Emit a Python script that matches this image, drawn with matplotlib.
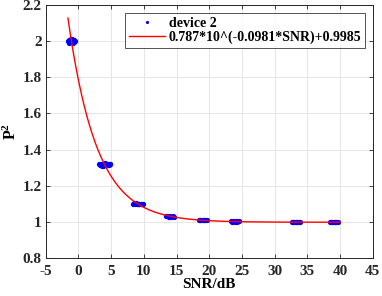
import matplotlib
matplotlib.use("Agg")
import matplotlib.pyplot as plt
import numpy as np

plt.rcParams['font.family'] = ['Liberation Serif', 'DejaVu Serif']
plt.rcParams['font.weight'] = 'bold'
plt.rcParams['axes.unicode_minus'] = False
plt.rcParams['mathtext.fontset'] = 'custom'
plt.rcParams['mathtext.rm'] = 'Liberation Serif:bold'
plt.rcParams['mathtext.it'] = 'Liberation Serif:bold'
plt.rcParams['mathtext.bf'] = 'Liberation Serif:bold'

# measured points (device 2), clustered by SNR level
snr_c1 = [-1.6, -1.4, -1.2, -1.0, -0.8, -0.6, -0.5, -1.5, -1.1, -0.7, -1.3, -0.9, -0.6, -1.2, -0.8, -1.0]
p2_c1 = [2.000, 2.008, 1.995, 2.010, 2.004, 1.998, 2.002, 1.992, 2.012, 2.007, 2.005, 1.993, 2.001, 2.014, 1.990, 1.998]
snr_c2 = [3.2, 3.4, 3.5, 3.7, 3.8, 4.0, 4.1, 4.3, 4.4, 4.6, 4.7, 4.9, 3.6, 3.9, 4.2, 4.5, 3.3, 4.8]
p2_c2 = [1.318, 1.322, 1.314, 1.320, 1.312, 1.324, 1.316, 1.319, 1.314, 1.320, 1.317, 1.318, 1.311, 1.321, 1.313, 1.316, 1.315, 1.319]
snr_c3 = [8.3, 8.5, 8.7, 8.9, 9.1, 9.3, 9.5, 9.7, 9.9, 8.8, 9.2]
p2_c3 = [1.100, 1.103, 1.099, 1.102, 1.100, 1.099, 1.101, 1.100, 1.099, 1.104, 1.097]
snr_c4 = [13.4, 13.6, 13.8, 14.0, 14.2, 14.4, 14.6, 13.9]
p2_c4 = [1.031, 1.033, 1.029, 1.032, 1.030, 1.031, 1.030, 1.028]
snr_c5 = [18.4, 18.6, 18.8, 19.0, 19.2, 19.4, 19.6]
p2_c5 = [1.011, 1.010, 1.009, 1.011, 1.010, 1.010, 1.009]
snr_c6 = [23.3, 23.5, 23.7, 23.9, 24.1, 24.3, 24.5]
p2_c6 = [1.003, 1.002, 1.003, 1.002, 1.003, 1.002, 1.003]
snr_c7 = [32.6, 32.8, 33.0, 33.2, 33.4, 33.6, 33.8]
p2_c7 = [1.000, 0.999, 1.000, 0.999, 1.000, 0.999, 1.000]
snr_c8 = [38.4, 38.6, 38.8, 39.0, 39.2, 39.4, 39.6]
p2_c8 = [0.999, 1.000, 0.999, 1.000, 0.999, 1.000, 0.999]

# fit coefficients from legend: a*10^(b*SNR)+c
fit_a, fit_b, fit_c = 0.787, -0.0981, 0.9985
fit_range = [-1.6, 40.0]

x_ticks = [-5, 0, 5, 10, 15, 20, 25, 30, 35, 40, 45]
y_ticks = [0.8, 1.0, 1.2, 1.4, 1.6, 1.8, 2.0, 2.2]
y_ticklabels = ['0.8', '1', '1.2', '1.4', '1.6', '1.8', '2', '2.2']

snr_all = snr_c1 + snr_c2 + snr_c3 + snr_c4 + snr_c5 + snr_c6 + snr_c7 + snr_c8
p2_all = p2_c1 + p2_c2 + p2_c3 + p2_c4 + p2_c5 + p2_c6 + p2_c7 + p2_c8

fig = plt.figure(figsize=(3.82, 2.96), dpi=100)
ax = fig.add_axes([0.1196, 0.128, 0.976 - 0.1196, 0.983 - 0.128])

ax.plot(snr_all, p2_all, 'o', color='#0000ff', markersize=3.8, markeredgewidth=0,
        label='device 2', zorder=3)
xs = np.linspace(fit_range[0], fit_range[1], 400)
ax.plot(xs, fit_a * 10 ** (fit_b * xs) + fit_c, '-', color='#ff0000', lw=1.0,
        label='0.787*10^(-0.0981*SNR)+0.9985', zorder=4)

ax.set_xlim(-5, 45)
ax.set_ylim(0.8, 2.2)
ax.set_xticks(x_ticks)
ax.set_yticks(y_ticks)
ax.set_yticklabels(y_ticklabels)
ax.grid(True, color='#e6e6e6', lw=0.7)
ax.set_axisbelow(True)
ax.tick_params(axis='both', direction='in', top=True, right=True, length=3, width=0.6,
               labelsize=11, colors='#262626')
ax.tick_params(axis='x', pad=5)
ax.tick_params(axis='y', pad=3)
for s in ax.spines.values():
    s.set_color('#262626')
    s.set_linewidth(0.7)
for lab in ax.get_xticklabels() + ax.get_yticklabels():
    lab.set_fontweight('bold')

ax.set_xlabel('SNR/dB', fontsize=11, fontweight='bold', labelpad=0)
ax.set_ylabel('P$^2$', fontsize=11.5, fontweight='bold', labelpad=2)

leg = ax.legend(loc='upper right', bbox_to_anchor=(0.976, 0.968),
                prop={'weight': 'bold', 'size': 10}, frameon=True, fancybox=False,
                edgecolor='#262626', borderpad=0.25, handlelength=2.6,
                handletextpad=0.3, labelspacing=0.1, markerscale=0.6,
                borderaxespad=0.0)
leg.get_frame().set_linewidth(0.7)

fig.savefig('out.png', dpi=100)
